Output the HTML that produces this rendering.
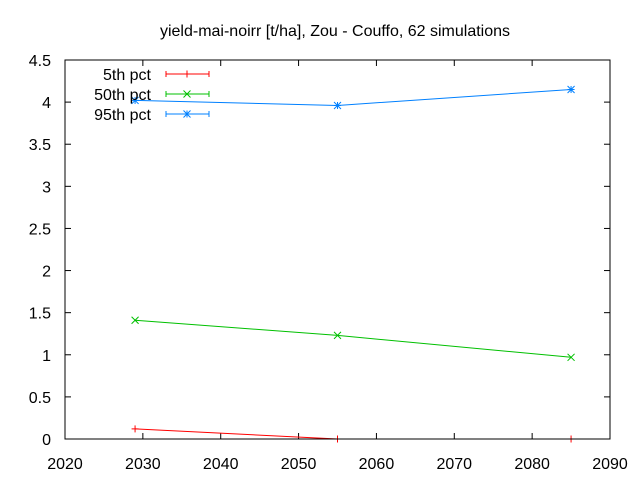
<!DOCTYPE html>
<html><head><meta charset="utf-8"><style>
body{margin:0;background:#fff}
svg{display:block;font-family:"Liberation Sans",sans-serif}
</style></head><body>
<svg id="chart" width="640" height="480" viewBox="0 0 640 480" xmlns="http://www.w3.org/2000/svg">
<text x="335" y="36" font-size="16" text-anchor="middle">yield-mai-noirr [t/ha], Zou - Couffo, 62 simulations</text>
<g id="grid"></g>
<g id="series"></g>
<rect x="65" y="60" width="545" height="379" fill="none" stroke="#000" stroke-width="1"/>
<g id="marks"></g>
<g id="legend"></g>
</svg>
<script>
const years = [2029, 2055, 2085];
const p5 = [0.12, 0, 0];
const p50 = [1.41, 1.23, 0.97];
const p95 = [4.02, 3.96, 4.15];
const seriesNames = ["5th pct", "50th pct", "95th pct"];
const xTicks = [2020, 2030, 2040, 2050, 2060, 2070, 2080, 2090];
const yTicks = [0, 0.5, 1, 1.5, 2, 2.5, 3, 3.5, 4, 4.5];
const yTickLabels = ["0", "0.5", "1", "1.5", "2", "2.5", "3", "3.5", "4", "4.5"];

const L=65,R=610,T=60,B=439;
const X=v=>L+(v-2020)/70*(R-L);
const Y=v=>B-(v/4.5)*(B-T);
const NS="http://www.w3.org/2000/svg";
function mk(tag,attrs,parent){const e=document.createElementNS(NS,tag);for(const k in attrs)e.setAttribute(k,attrs[k]);parent.appendChild(e);return e;}
const grid=document.getElementById('grid'),ser=document.getElementById('series'),leg=document.getElementById('legend');

xTicks.forEach(t=>{
  const x=X(t);
  const a=mk('line',{x1:x,x2:x,y1:B,y2:B-6,stroke:'#000'},grid);
  
  
  const b=mk('line',{x1:x,x2:x,y1:T,y2:T+6,stroke:'#000'},grid);
  
  
  const tx=mk('text',{x:x,y:469,'font-size':16,'text-anchor':'middle'},grid);
  tx.textContent=t;
  
  
});
yTicks.forEach((t,i)=>{
  const y=Y(t);
  const a=mk('line',{x1:L,x2:L+6,y1:y,y2:y,stroke:'#000'},grid);
  
  
  const b=mk('line',{x1:R,x2:R-6,y1:y,y2:y,stroke:'#000'},grid);
  
  
  const tx=mk('text',{x:51,y:y+6,'font-size':16,'text-anchor':'end'},grid);
  tx.textContent=yTickLabels[i];
  
  
});

function marker(type,x,y,color,g){
  const s=3.5;
  if(type==='+'||type==='*'){
    mk('line',{x1:x-s,x2:x+s,y1:y,y2:y,stroke:color},g);
    mk('line',{x1:x,x2:x,y1:y-s,y2:y+s,stroke:color},g);
  }
  if(type==='x'||type==='*'){
    mk('line',{x1:x-s,x2:x+s,y1:y-s,y2:y+s,stroke:color},g);
    mk('line',{x1:x-s,x2:x+s,y1:y+s,y2:y-s,stroke:color},g);
  }
}
const defs=[[p5,'#ff0000','+'],[p50,'#00c000','x'],[p95,'#0080ff','*']];
defs.forEach(([vals,color,m],si)=>{
  const pts=years.map((yr,i)=>X(yr)+','+Y(Math.max(0,vals[i]))).join(' ');
  const pl=mk('polyline',{points:pts,fill:'none',stroke:color,'stroke-width':1},ser);
  
  
  years.forEach((yr,i)=>{
    const g=mk('g',{},ser);
    
    
    marker(m,X(yr),Y(Math.max(0,vals[i])),color,g);
  });
  const ly=74+si*20;
  const lg=mk('g',{},leg);
  
  
  const t=mk('text',{x:151,y:ly+6,'font-size':16,'text-anchor':'end'},lg);
  t.textContent=seriesNames[si];
  mk('line',{x1:166,x2:209,y1:ly,y2:ly,stroke:color},lg);
  mk('line',{x1:166,x2:166,y1:ly-3,y2:ly+3,stroke:color},lg);
  mk('line',{x1:209,x2:209,y1:ly-3,y2:ly+3,stroke:color},lg);
  marker(m,187,ly,color,lg);
});
</script>
</body></html>
